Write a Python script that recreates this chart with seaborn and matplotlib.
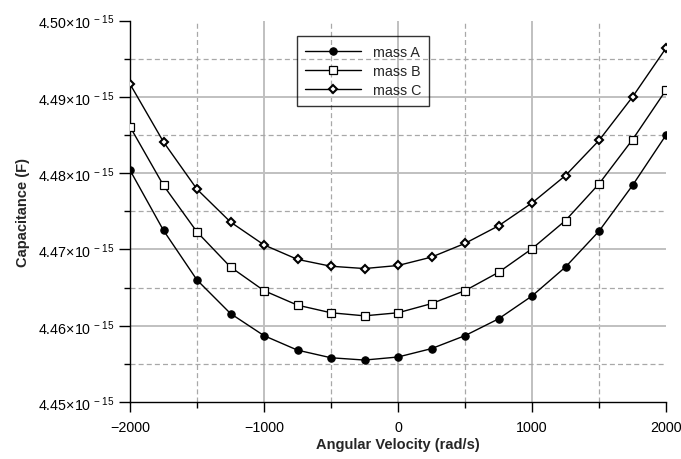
import numpy as np
import pandas as pd
import matplotlib
matplotlib.use("Agg")
import matplotlib.pyplot as plt
import seaborn as sns
from matplotlib.ticker import FixedLocator, FuncFormatter

# ---- data (capacitance in units of 1e-15 F) ----
omega = [-2000, -1750, -1500, -1250, -1000, -750, -500, -250, 0,
         250, 500, 750, 1000, 1250, 1500, 1750, 2000]
mass_A = [4.4804, 4.4725, 4.4660, 4.4616, 4.4587, 4.4568, 4.4558, 4.4555, 4.4559,
          4.4570, 4.4587, 4.4609, 4.4639, 4.4677, 4.4724, 4.4784, 4.4850]
mass_B = [4.4861, 4.4784, 4.4723, 4.4677, 4.4646, 4.4627, 4.4617, 4.4613, 4.4617,
          4.4629, 4.4646, 4.4670, 4.4701, 4.4738, 4.4786, 4.4844, 4.4909]
mass_C = [4.4917, 4.4841, 4.4779, 4.4736, 4.4706, 4.4687, 4.4678, 4.4675, 4.4679,
          4.4690, 4.4708, 4.4731, 4.4761, 4.4797, 4.4843, 4.4900, 4.4964]
series_names = ["mass A", "mass B", "mass C"]
x_ticks = [-2000, -1000, 0, 1000, 2000]
x_minor = [-1500, -500, 500, 1500]
y_ticks = [4.45, 4.46, 4.47, 4.48, 4.49, 4.50]
y_minor = [4.455, 4.465, 4.475, 4.485, 4.495]
x_label = "Angular Velocity (rad/s)"
y_label = "Capacitance (F)"

sns.set_theme(style="white")
plt.rcParams["font.family"] = ["Liberation Sans", "DejaVu Sans"]
plt.rcParams["mathtext.default"] = "regular"

fig = plt.figure(figsize=(6.81, 4.60), dpi=100)
ax = fig.add_axes([130/681, 1-403/460, (666-130)/681, (403-21.7)/460])

styles = {
    "mass A": dict(marker="o", markersize=5.3, markerfacecolor="black", markeredgecolor="black", markeredgewidth=0.8),
    "mass B": dict(marker="s", markersize=5.6, markerfacecolor="white", markeredgecolor="black", markeredgewidth=0.9),
    "mass C": dict(marker="D", markersize=3.9, markerfacecolor="white", markeredgecolor="black", markeredgewidth=1.5),
}
for name, vals in zip(series_names, [mass_A, mass_B, mass_C]):
    df = pd.DataFrame({"w": omega, "C": np.array(vals) * 1e-15})
    sns.lineplot(data=df, x="w", y="C", ax=ax, color="black", linewidth=1.0,
                 label=name, zorder=3, **styles[name])

ax.set_xlim(-2000, 2000)
ax.set_ylim(4.45e-15, 4.50e-15)
ax.xaxis.set_major_locator(FixedLocator(x_ticks))
ax.xaxis.set_minor_locator(FixedLocator(x_minor))
ax.yaxis.set_major_locator(FixedLocator([v * 1e-15 for v in y_ticks]))
ax.yaxis.set_minor_locator(FixedLocator([v * 1e-15 for v in y_minor]))
ax.yaxis.set_major_formatter(FuncFormatter(lambda v, p: f"{v/1e-15:.2f}×10$^{{\u2009-15}}$"))

ax.grid(which="major", color="#c0c0c0", linewidth=1.4, linestyle="-", zorder=0)
ax.grid(which="minor", color="#a8a8a8", linewidth=0.9, linestyle=(0, (4, 2.5)), zorder=0)
ax.set_axisbelow(True)

fig.canvas.draw()
for t in ax.yaxis.get_major_ticks():
    if abs(t.get_loc() - 4.50e-15) < 1e-19 or abs(t.get_loc() - 4.45e-15) < 1e-19:
        t.gridline.set_visible(False)
for t in ax.xaxis.get_major_ticks():
    if abs(t.get_loc() - 2000) < 1e-6 or abs(t.get_loc() + 2000) < 1e-6:
        t.gridline.set_visible(False)

for s in ["top", "right"]:
    ax.spines[s].set_visible(False)
for s in ["left", "bottom"]:
    ax.spines[s].set_color("black")
    ax.spines[s].set_linewidth(1.0)

ax.tick_params(axis="y", which="major", direction="out", length=8, width=1.0, color="black",
               labelsize=10.3, labelcolor="black", left=True, pad=3)
ax.tick_params(axis="x", which="major", direction="out", length=7, width=1.0, color="black",
               labelsize=10.3, labelcolor="black", bottom=True, pad=6)
ax.tick_params(which="minor", direction="out", length=4, width=1.0, color="black",
               left=True, bottom=True)

ax.set_xlabel(x_label, fontsize=10.5, fontweight="bold", labelpad=2)
ax.set_ylabel(y_label, fontsize=10.5, fontweight="bold", labelpad=6)

leg = ax.legend(loc="upper left", bbox_to_anchor=(0.311, 0.959), borderaxespad=0,
                fontsize=10.3, frameon=True, fancybox=False,
                edgecolor="black", handlelength=3.9, handletextpad=0.8,
                labelspacing=0.36, borderpad=0.6)
leg.get_frame().set_facecolor("none")
leg.get_frame().set_linewidth(1.0)

fig.savefig("out.png", dpi=100)
